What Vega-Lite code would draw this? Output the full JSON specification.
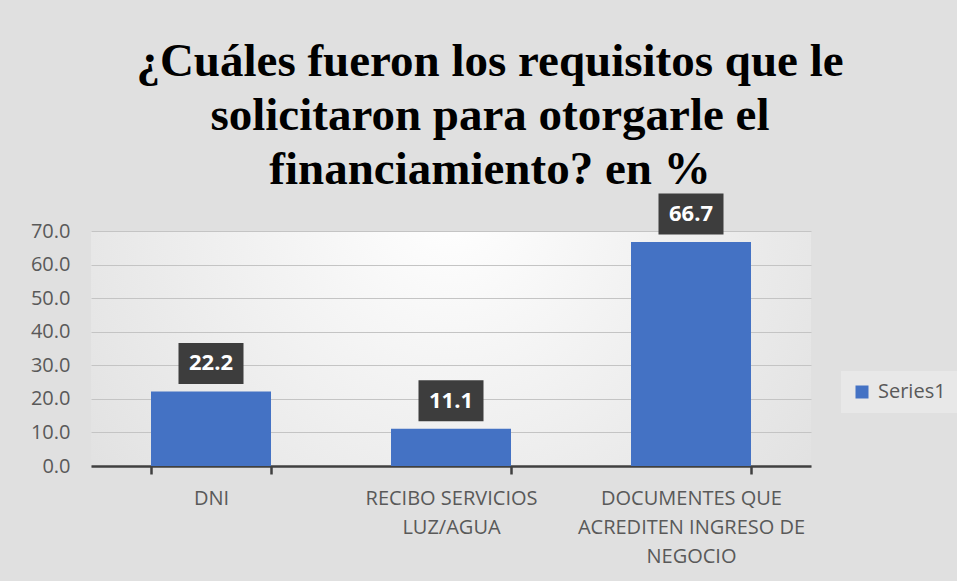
{
  "$schema": "https://vega.github.io/schema/vega-lite/v6.json",
  "width": 720,
  "height": 235,
  "autosize": {"type": "none"},
  "padding": {"left": 91, "top": 231, "right": 146, "bottom": 115},
  "background": "#e0e0e0",
  "config": {
    "font": "Open Sans",
    "view": {
      "stroke": null,
      "fill": {
        "gradient": "radial",
        "x1": 0.5, "y1": 0.3, "r1": 0,
        "x2": 0.5, "y2": 0.3, "r2": 0.65,
        "stops": [
          {"offset": 0, "color": "#ffffff"},
          {"offset": 1, "color": "#e0e0e0"}
        ]
      }
    }
  },
  "title": {
    "text": ["¿Cuáles fueron los requisitos que le", "solicitaron para otorgarle el", "financiamiento? en %"],
    "font": "Liberation Serif",
    "fontWeight": "bold",
    "fontSize": 47,
    "lineHeight": 54,
    "color": "#000000",
    "anchor": "middle",
    "dx": 39,
    "offset": 0
  },
  "data": {
    "values": [
      {"categoria": "DNI", "valor": 22.2, "serie": "Series1"},
      {"categoria": "RECIBO SERVICIOS LUZ/AGUA", "valor": 11.1, "serie": "Series1"},
      {"categoria": "DOCUMENTES QUE ACREDITEN INGRESO DE NEGOCIO", "valor": 66.7, "serie": "Series1"}
    ]
  },
  "encoding": {
    "x": {
      "field": "categoria",
      "type": "nominal",
      "sort": null,
      "scale": {"paddingInner": 0.5, "paddingOuter": 0.25},
      "axis": {
        "title": null,
        "labelAngle": 0,
        "labelFontSize": 20,
        "labelColor": "#595959",
        "labelLineHeight": 29,
        "labelPadding": 14,
        "labelBaseline": "top",
        "labelLimit": 400,
        "labelExpr": "datum.label == 'RECIBO SERVICIOS LUZ/AGUA' ? ['RECIBO SERVICIOS', 'LUZ/AGUA'] : datum.label == 'DOCUMENTES QUE ACREDITEN INGRESO DE NEGOCIO' ? ['DOCUMENTES QUE', 'ACREDITEN INGRESO DE', 'NEGOCIO'] : datum.label",
        "domainColor": "#404040",
        "domainWidth": 2.5,
        "ticks": true,
        "tickBand": "extent",
        "tickColor": "#404040",
        "tickWidth": 2.5,
        "tickSize": 8,
        "grid": false
      }
    },
    "y": {
      "field": "valor",
      "type": "quantitative",
      "scale": {"domain": [0, 70]},
      "axis": {
        "title": null,
        "values": [0, 10, 20, 30, 40, 50, 60, 70],
        "format": ".1f",
        "labelFontSize": 20,
        "labelColor": "#595959",
        "labelPadding": 21,
        "domain": false,
        "ticks": false,
        "grid": true,
        "gridColor": "#c4c4c4",
        "gridWidth": 1
      }
    }
  },
  "layer": [
    {
      "mark": {"type": "bar"},
      "encoding": {
        "color": {
          "field": "serie",
          "type": "nominal",
          "scale": {"range": ["#4472C4"]},
          "legend": {
            "title": null,
            "orient": "none",
            "legendX": 750,
            "legendY": 140,
            "symbolType": "square",
            "symbolSize": 169,
            "symbolStrokeWidth": 0,
            "labelFontSize": 20,
            "labelColor": "#595959",
            "labelOffset": 6,
            "fillColor": "#e8e8e8",
            "padding": 11
          }
        }
      }
    },
    {
      "mark": {
        "type": "point",
        "shape": "M-1,-0.63H1V0.63H-1Z",
        "size": 4225,
        "filled": true,
        "color": "#3d3d3d",
        "opacity": 1,
        "yOffset": -28
      }
    },
    {
      "mark": {
        "type": "text",
        "dy": -28,
        "color": "#ffffff",
        "fontWeight": "bold",
        "fontSize": 22,
        "baseline": "middle"
      },
      "encoding": {
        "text": {"field": "valor", "type": "quantitative", "format": ".1f"}
      }
    }
  ]
}
